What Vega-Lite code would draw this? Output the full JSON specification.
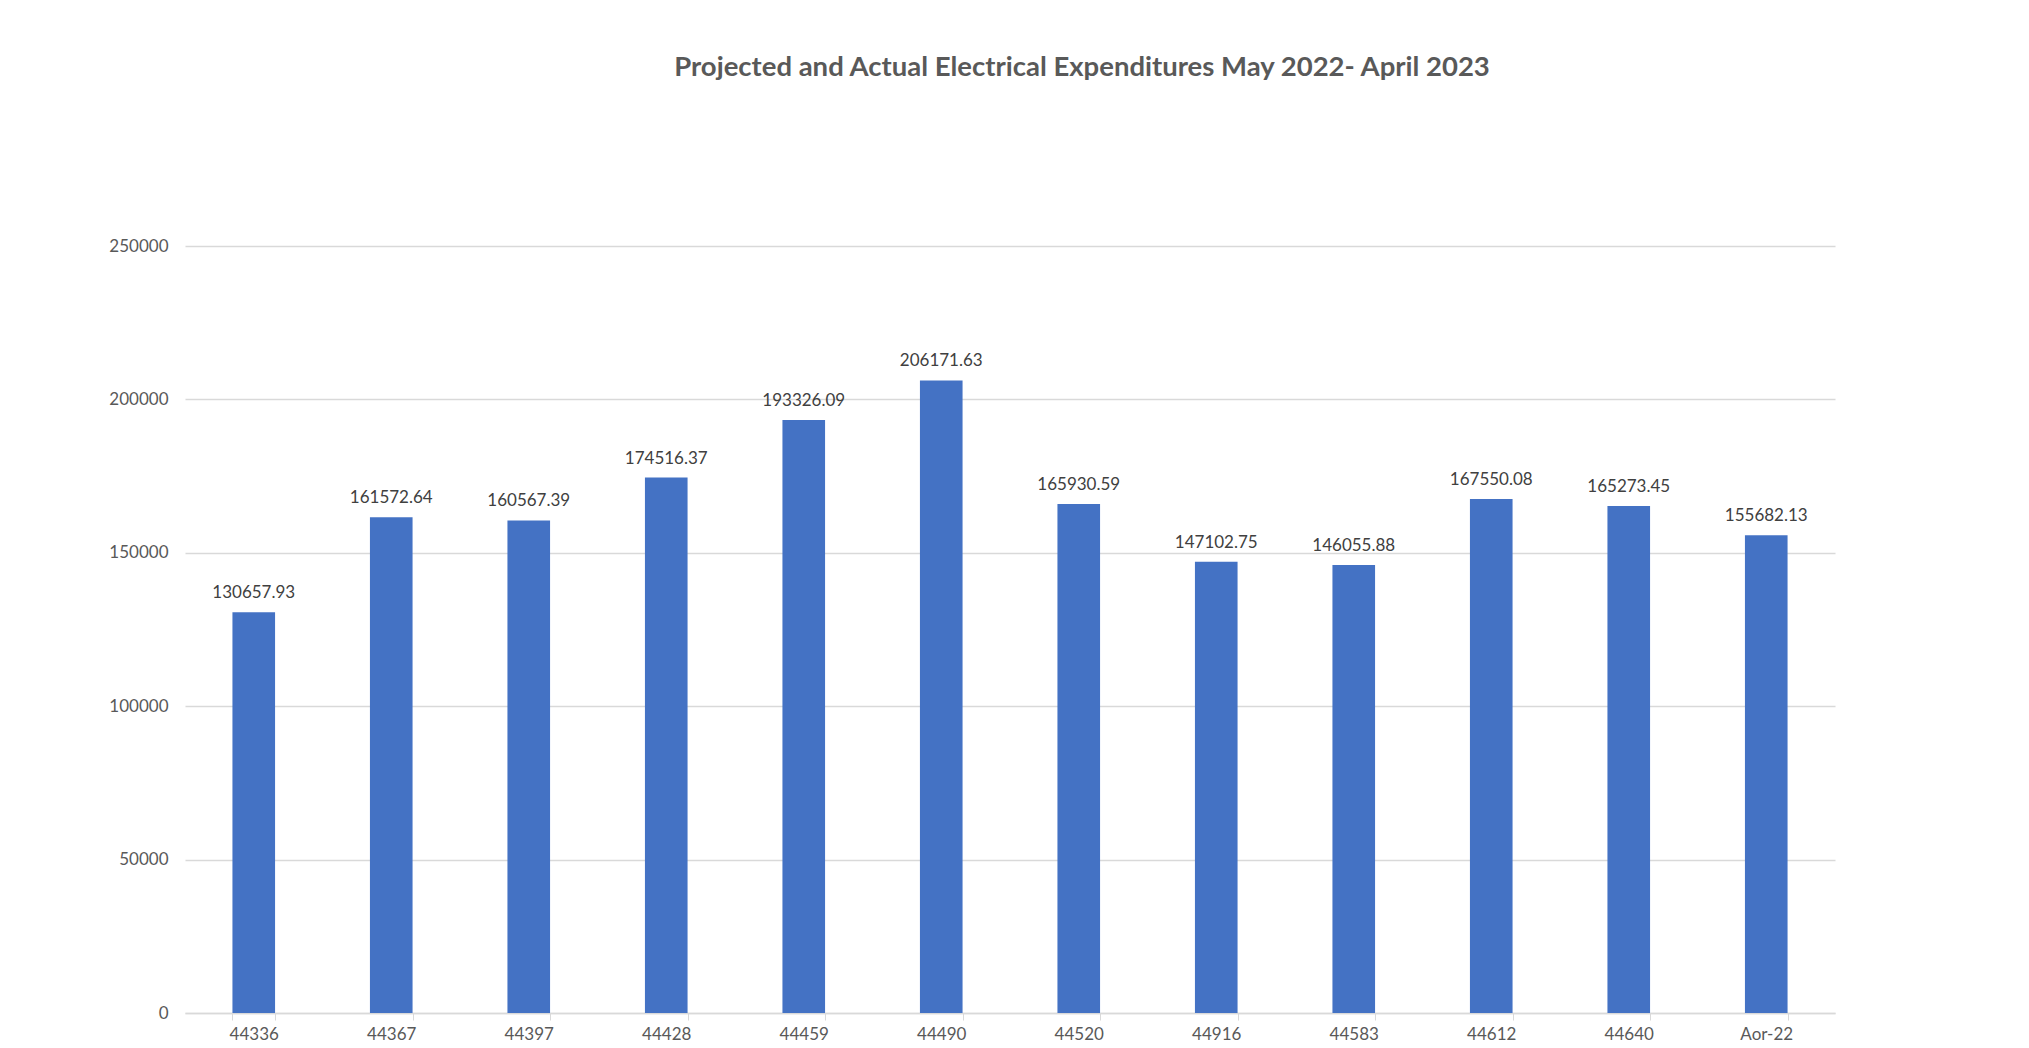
{
  "$schema": "https://vega.github.io/schema/vega-lite/v6.json",
  "autosize": {"type": "none"},
  "width": 1650,
  "height": 767,
  "padding": {"left": 185, "top": 246, "right": 194, "bottom": 35},
  "background": "white",
  "title": {
    "text": "Projected and Actual Electrical Expenditures May 2022- April 2023",
    "font": "Lato",
    "fontSize": 27.5,
    "fontWeight": "bold",
    "color": "#595959",
    "anchor": "middle",
    "offset": 156,
    "dx": 72
  },
  "data": {
    "values": [
      {"month": "44336", "amount": 130657.93},
      {"month": "44367", "amount": 161572.64},
      {"month": "44397", "amount": 160567.39},
      {"month": "44428", "amount": 174516.37},
      {"month": "44459", "amount": 193326.09},
      {"month": "44490", "amount": 206171.63},
      {"month": "44520", "amount": 165930.59},
      {"month": "44916", "amount": 147102.75},
      {"month": "44583", "amount": 146055.88},
      {"month": "44612", "amount": 167550.08},
      {"month": "44640", "amount": 165273.45},
      {"month": "Aor-22", "amount": 155682.13}
    ]
  },
  "encoding": {
    "x": {
      "field": "month",
      "type": "nominal",
      "sort": null,
      "title": null,
      "scale": {"paddingInner": 0.69, "paddingOuter": 0.345},
      "axis": {
        "labelAngle": 0,
        "labelFont": "Lato",
        "labelFontSize": 17,
        "labelColor": "#595959",
        "labelPadding": 6,
        "tickBand": "extent",
        "tickColor": "#d9d9d9",
        "tickSize": 7,
        "domainColor": "#d9d9d9",
        "domainWidth": 1.5,
        "grid": false
      }
    },
    "y": {
      "field": "amount",
      "type": "quantitative",
      "title": null,
      "scale": {"domain": [0, 250000], "nice": false},
      "axis": {
        "values": [0, 50000, 100000, 150000, 200000, 250000],
        "format": "d",
        "labelFont": "Lato",
        "labelFontSize": 17,
        "labelColor": "#595959",
        "labelPadding": 17,
        "ticks": false,
        "domain": false,
        "gridColor": "#d9d9d9",
        "gridWidth": 1.3
      }
    }
  },
  "layer": [
    {"mark": {"type": "bar", "color": "#4472C4"}},
    {
      "mark": {"type": "text", "baseline": "bottom", "dy": -10, "font": "Lato", "fontSize": 17, "color": "#404040"},
      "encoding": {"text": {"field": "amount", "type": "quantitative", "format": ".2f"}}
    }
  ],
  "config": {"view": {"stroke": null}}
}
